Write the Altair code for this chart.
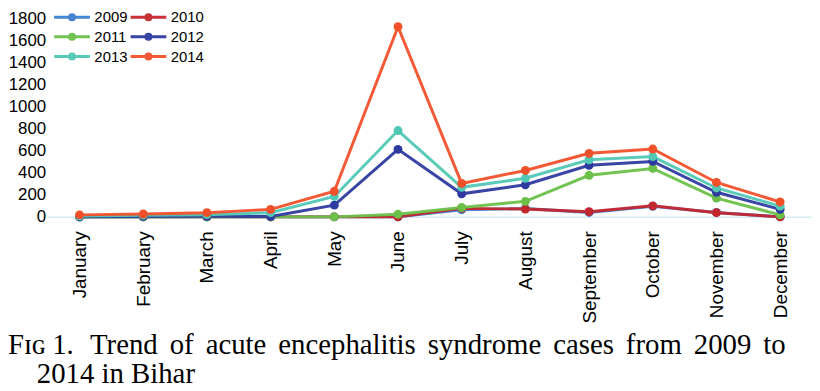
import altair as alt
import pandas as pd

months = ["January", "February", "March", "April", "May", "June", "July",
          "August", "September", "October", "November", "December"]
years = ["2009", "2010", "2011", "2012", "2013", "2014"]

cases_2009 = [0, 0, 0, 0, 0, 0, 65, 75, 40, 95, 40, 0]
cases_2010 = [0, 0, 0, 0, 0, 0, 77, 71, 47, 100, 38, 0]
cases_2011 = [0, 0, 0, 0, 0, 24, 85, 141, 377, 439, 170, 18]
cases_2012 = [0, 4, 5, 3, 106, 612, 209, 291, 468, 503, 223, 68]
cases_2013 = [8, 15, 20, 38, 185, 783, 268, 350, 518, 547, 262, 97]
cases_2014 = [18, 26, 38, 68, 232, 1724, 303, 421, 576, 615, 312, 135]

colors = ["#3b7fd4", "#c4262e", "#6cc04a", "#2e3a9f", "#50c8b4", "#f2502a"]

caption_head = "F\u026a\u0262 1."
caption_line1 = ["Trend", "of", "acute", "encephalitis",
                 "syndrome", "cases", "from", "2009", "to"]
caption_line2 = "2014 in Bihar"

series = [cases_2009, cases_2010, cases_2011, cases_2012, cases_2013, cases_2014]
rows = []
for yr, vals in zip(years, series):
    for i, (m, v) in enumerate(zip(months, vals)):
        rows.append({"year": yr, "month": m, "cases": v, "order": i})
df = pd.DataFrame(rows)

# justified-looking first line: normal space plus two hair spaces per gap
line1 = caption_head + "\u00a0\u200a " + " \u200a\u200a".join(caption_line1)
line2 = "\u200b\u2003" + caption_line2

# line with a dot (concentric rings so it looks filled when stroked);
# the line reaches beyond the unit box so rows can stay compact
legend_path = ("M-2,0H2"
               "M-0.28,0A0.28,0.28,0,1,0,0.28,0A0.28,0.28,0,1,0,-0.28,0"
               "M-0.13,0A0.13,0.13,0,1,0,0.13,0A0.13,0.13,0,1,0,-0.13,0"
               "M-0.03,0A0.03,0.03,0,1,0,0.03,0A0.03,0.03,0,1,0,-0.03,0")

color = alt.Color(
    "year:N",
    scale=alt.Scale(domain=years, range=colors),
    legend=alt.Legend(
        title=None, orient="none", legendX=14, legendY=-12, columns=2,
        direction="horizontal",
        symbolType=legend_path, symbolSize=324, symbolStrokeWidth=3,
        labelFont="Liberation Sans", labelFontSize=15, labelColor="#000000",
        labelOffset=12, columnPadding=-4, rowPadding=-4, padding=0,
    ),
)

x = alt.X("month:N", sort=months, scale=alt.Scale(type="point", padding=0.5),
          axis=alt.Axis(title=None, labelAngle=-90, labelAlign="right",
                        labelBaseline="middle", labelFont="Liberation Sans",
                        labelFontSize=19, labelColor="#000000", ticks=False,
                        labelPadding=14, domainColor="#d4ecf1",
                        domainWidth=1.5))
y = alt.Y("cases:Q", scale=alt.Scale(domain=[0, 1800], nice=False),
          axis=alt.Axis(title=None, values=list(range(0, 1801, 200)),
                        format="d", grid=False, domain=False, ticks=False,
                        labelFont="Liberation Sans", labelFontSize=17,
                        labelColor="#000000", labelPadding=2))

base = alt.Chart(df).encode(x=x, y=y, color=color, order="order:Q")
lines = base.mark_line(strokeWidth=3, opacity=0.95, clip=False)
points = base.mark_point(filled=True, size=80, opacity=1, clip=False)

chart = alt.layer(lines, points).properties(
    width=770, height=200,
    autosize=alt.AutoSizeParams(type="none"),
    padding={"left": 40, "top": 9, "right": 0, "bottom": 174},
    title=alt.TitleParams(
        text=[line1, line2],
        orient="bottom", anchor="start", frame="group", dx=-40, offset=8,
        font="Liberation Serif", fontSize=29, fontWeight="normal",
        lineHeight=29, color="#000000", baseline="top"),
).configure_view(stroke=None)

chart.save("out.html", embed_options={"renderer": "svg", "actions": False})
